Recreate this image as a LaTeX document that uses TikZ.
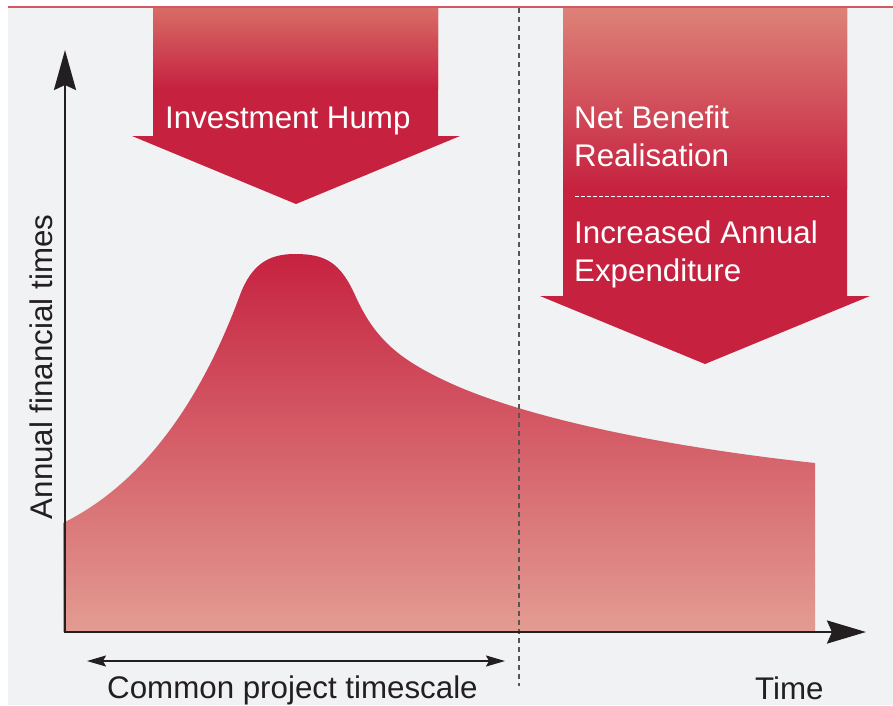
\documentclass[tikz,border=0pt]{standalone}
\usepackage{fontspec}
\setmainfont{Liberation Sans}
\usetikzlibrary{arrows.meta}
\definecolor{bggray}{RGB}{241,242,244}
\definecolor{crimson}{RGB}{198,34,64}
\definecolor{lightred}{RGB}{216,108,102}
\definecolor{palered}{RGB}{221,130,120}
\definecolor{midred}{RGB}{212,96,92}
\definecolor{salmon}{RGB}{227,156,146}
\definecolor{topline}{RGB}{212,88,100}
\definecolor{ink}{RGB}{35,31,32}
\definecolor{dashgray}{RGB}{85,85,85}
\tikzset{
  bigtext/.style={font=\fontsize{31.3}{38}\selectfont, inner sep=0pt, anchor=base west},
  whitetext/.style={bigtext, text=white},
  inktext/.style={bigtext, text=ink},
  axisline/.style={draw=ink, line width=2.6pt, line join=miter,
    {Stealth[length=40pt,width=22pt,inset=5pt]}-{Stealth[length=39pt,width=23pt,inset=5pt]}},
  spanarrow/.style={draw=ink, line width=1.6pt,
    {Stealth[length=19pt,width=11pt,inset=3pt]}-{Stealth[length=19pt,width=11pt,inset=3pt]}},
}
\begin{document}
\begin{tikzpicture}[x=1pt,y=-1pt]
\useasboundingbox (0,0) rectangle (893,705);
\fill[white] (0,0) rectangle (893,705);
\fill[bggray] (8,7) rectangle (893,705);
\draw[topline, line width=1.5pt] (8,7) -- (893,7);

% left arrow: Investment Hump
\fill[crimson] (153,8) -- (438,8) -- (438,136) -- (460,136) -- (296,204) -- (132,136) -- (153,136) -- cycle;
\shade[top color=lightred, bottom color=crimson] (153,8) rectangle (438,88);
\node[whitetext] (hump) at (165,128) {Investment Hump};

% right arrow
\fill[crimson] (563,8) -- (847,8) -- (847,296) -- (870,296) -- (705,364) -- (540,296) -- (563,296) -- cycle;
\shade[top color=palered, bottom color=crimson] (563,8) rectangle (847,188);
\node[whitetext] (nb1) at (574,128) {Net Benefit};
\node[whitetext] (nb2) at (574,166) {Realisation};
\coordinate (sepL) at (575,196);
\coordinate (sepR) at (829,196);
\draw[white, line width=0.8pt, dash pattern=on 4pt off 2pt] (sepL) -- (sepR);
\node[whitetext] (ia1) at (574,243) {Increased Annual};
\node[whitetext] (ia2) at (574,281) {Expenditure};

% curve
\shade[top color=crimson, middle color=midred, bottom color=salmon]
  (63,523) .. controls (150,480) and (205,390) .. (240,295)
  .. controls (252,263) and (270,254) .. (295,254)
  .. controls (325,254) and (340,262) .. (355,295)
  .. controls (375,340) and (400,360) .. (450,383)
  .. controls (520,415) and (650,445) .. (815,463)
  -- (815,632) -- (63,632) -- cycle;

% dashed divider
\coordinate (dtop) at (519,8);
\coordinate (dbot) at (519,686);
\draw[dashgray, line width=1.2pt, dash pattern=on 5pt off 4pt] (dtop) -- (dbot);

% axes
\coordinate (O) at (65,632);
\coordinate (ytip) at (65,50);
\coordinate (xtip) at (866,632);
\draw[axisline] (ytip) -- (O) -- (xtip);

% span arrow
\coordinate (spanL) at (87,661);
\coordinate (spanR) at (505,661);
\draw[spanarrow] (spanL) -- (spanR);

% labels
\node[inktext] (common) at (107,698) {Common project timescale};
\node[inktext] (time) at (755,699) {Time};
\node[inktext, anchor=base, rotate=90] (ylab) at (52,367) {Annual financial times};
\end{tikzpicture}
\end{document}
